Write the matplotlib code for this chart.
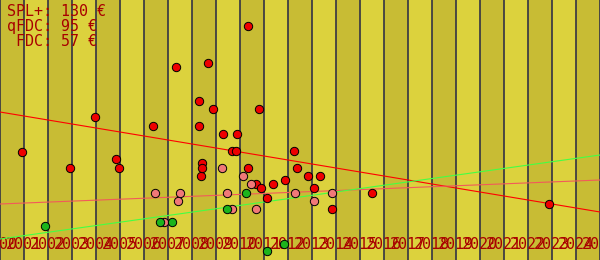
import matplotlib
matplotlib.use('Agg')
import matplotlib.pyplot as plt
import matplotlib.transforms as mtransforms

# years on the axis
years = list(range(2000, 2026))

# SPL+ sales (year, price in EUR)
spl_years = [2000.92, 2002.92, 2003.96, 2004.83, 2004.96, 2006.38, 2007.33, 2008.29, 2008.29,
             2008.38, 2008.42, 2008.42, 2008.67, 2008.88, 2009.29, 2009.67, 2009.83, 2009.88,
             2010.33, 2010.33, 2010.79, 2010.67, 2010.88, 2011.13, 2011.38, 2011.88, 2012.25,
             2012.38, 2012.83, 2013.08, 2013.33, 2013.83, 2015.5, 2022.88]
spl_prices = [54, 46, 71.5, 50.5, 46, 67, 96.5, 79.5, 67,
              42, 48.5, 46, 98.5, 75.5, 63, 54.5, 54.5, 63,
              117, 46, 75.5, 38, 36, 31, 38, 40, 54.5,
              46, 42, 36, 42, 25.5, 33.5, 28]

# qFDC sales
qfdc_years = [2009.25, 2010.13, 2010.46, 2006.46, 2007.5, 2009.46, 2012.29, 2013.83,
              2007.42, 2013.08, 2009.67, 2010.67, 2006.83]
qfdc_prices = [46, 42, 38, 33.5, 33.5, 33.5, 33.5, 33.5,
               29.5, 29.5, 25.5, 25.5, 19]

# FDC sales
fdc_years = [2001.88, 2006.67, 2007.17, 2010.25, 2009.46, 2011.13, 2011.83]
fdc_prices = [17, 19, 19, 33.5, 25.5, 4.5, 8]

# trend lines, value at start and end of the axis
trend_x = [2000, 2025]
spl_trend = [74, 24]
qfdc_trend = [28, 40]
fdc_trend = [10.5, 52.5]

legend_lines = ['SPL+: 130 €', 'qFDC: 95 €', ' FDC: 57 €']

light = '#dcd23d'
dark = '#c8bc34'
text_red = '#a80000'

fig = plt.figure(figsize=(6, 2.6), dpi=100)
ax = fig.add_axes([0, 0, 1, 1])
ax.set_xlim(2000, 2025)
ax.set_ylim(0, 130)
ax.axis('off')

# alternating year bands
for i, y in enumerate(years[:-1]):
    ax.axvspan(y, y + 1, color=dark if i % 2 == 0 else light, lw=0, zorder=0)
for y in years:
    ax.axvline(y, color='#333344', lw=1.2, zorder=1)

# year labels along the bottom
trans = mtransforms.blended_transform_factory(ax.transData, ax.transAxes)
for y in years:
    ax.text(y, 0.058, str(y), transform=trans, ha='center', va='center',
            family='DejaVu Sans Mono', fontsize=10.8, color=text_red, zorder=2)

ax.plot(trend_x, spl_trend, color='#ff0000', lw=0.8, zorder=3)
ax.plot(trend_x, qfdc_trend, color='#f25a5a', lw=0.8, zorder=3)
ax.plot(trend_x, fdc_trend, color='#44ff44', lw=0.8, zorder=3)

ax.scatter(spl_years, spl_prices, s=36, color='#ee0000', edgecolors='black', linewidths=0.7, zorder=4)
ax.scatter(qfdc_years, qfdc_prices, s=36, color='#f07878', edgecolors='black', linewidths=0.7, zorder=4)
ax.scatter(fdc_years, fdc_prices, s=36, color='#1cb41c', edgecolors='black', linewidths=0.7, zorder=4)

ax.text(7 / 600, 1 - 4 / 260, '\n'.join(legend_lines), transform=ax.transAxes,
        ha='left', va='top', family='DejaVu Sans Mono', fontsize=10.8,
        color=text_red, linespacing=1.0, zorder=5)

fig.savefig('out.png', dpi=100)
